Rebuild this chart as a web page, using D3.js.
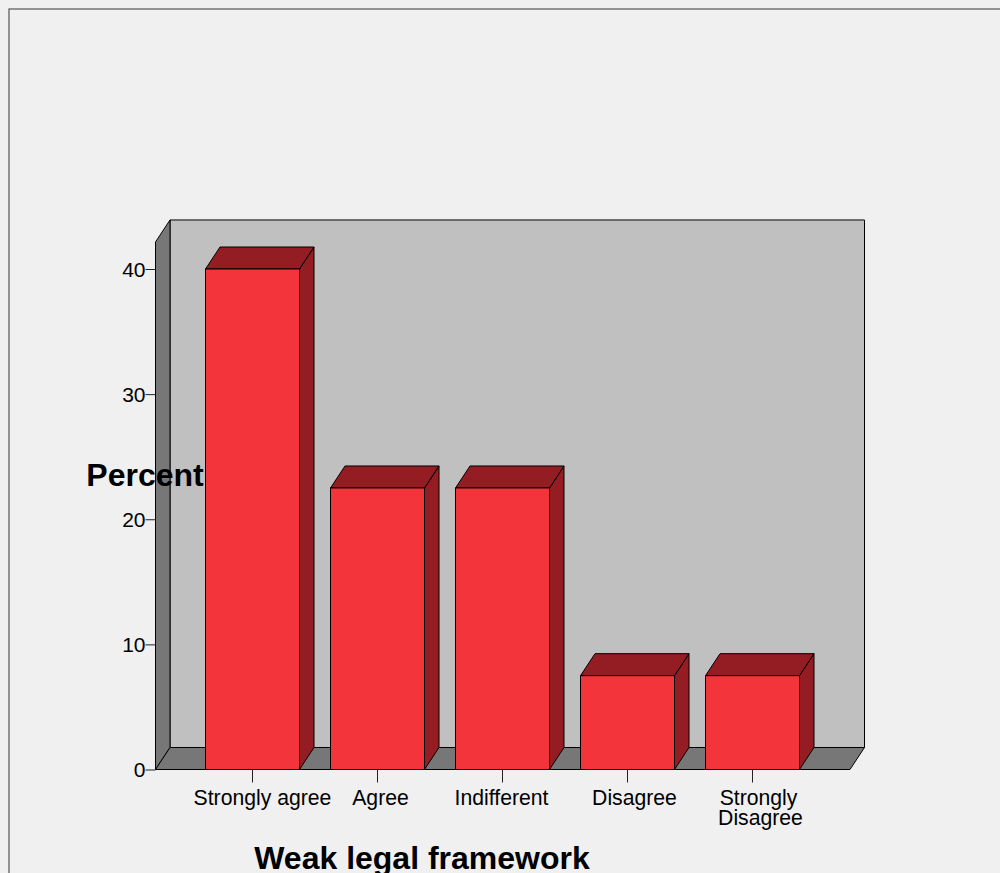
<!DOCTYPE html>
<html><head><meta charset="utf-8">
<script src="https://cdn.jsdelivr.net/npm/d3@7/dist/d3.min.js"></script>
<style>html,body{margin:0;padding:0;background:#f0f0f0;overflow:hidden}svg{display:block}text{font-family:"Liberation Sans",Arial,sans-serif;fill:#000}</style>
</head><body><svg id="c" width="1000" height="873"></svg>
<script>
const categories = ["Strongly agree","Agree","Indifferent","Disagree","Strongly Disagree"];
const percents = [40, 22.5, 22.5, 7.5, 7.5];
const yTicks = [0,10,20,30,40];
const yMax = 42.16;
const xTitle = "Weak legal framework";
const yTitle = "Percent";

const W=1000,H=873, dx=14.5, dy=-22;
const left=155.5,right=850,bottom=769.5;
const y=d3.scaleLinear().domain([0,40]).range([bottom,269]);
const x=d3.scaleBand().domain(categories).range([190,815]).paddingInner(0.248).paddingOuter(0.124);
const top_=y(yMax);
const svg=d3.select("#c");
const LINE="#000";
const poly=(pts,fill,sw=1)=>svg.append("path").attr("d","M"+pts.map(p=>p.join(",")).join("L")+"Z").attr("fill",fill).attr("stroke",LINE).attr("stroke-width",sw).attr("stroke-linejoin","round");

// outer frame
svg.append("rect").attr("x",9).attr("y",9).attr("width",W+20).attr("height",H+20).attr("fill","#f0f0f0").attr("stroke","#555").attr("stroke-width",1.2);

// 3D box: back wall, left wall, floor
poly([[left+dx,top_+dy],[right+dx,top_+dy],[right+dx,bottom+dy],[left+dx,bottom+dy]],"#c0c0c0");
poly([[left,top_],[left+dx,top_+dy],[left+dx,bottom+dy],[left,bottom]],"#777777");
poly([[left,bottom],[left+dx,bottom+dy],[right+dx,bottom+dy],[right,bottom]],"#777777");

// bars
categories.forEach((c,i)=>{
  const x0=x(c),x1=x0+x.bandwidth(),yt=y(percents[i]);
  poly([[x1,yt],[x1+dx,yt+dy],[x1+dx,bottom+dy],[x1,bottom]],"#931d22");
  poly([[x0,yt],[x0+dx,yt+dy],[x1+dx,yt+dy],[x1,yt]],"#931d22");
  poly([[x0,yt],[x1,yt],[x1,bottom],[x0,bottom]],"#f3343b");
});

// y axis
const ya=svg.append("g").attr("transform",`translate(${left},0)`).call(d3.axisLeft(y).tickValues(yTicks).tickSize(10).tickPadding(0).tickSizeOuter(0));
ya.select(".domain").remove();
ya.selectAll("line").attr("stroke","#222");
ya.selectAll("text").style("font-size","21px").style("font-family",'"Liberation Sans"').attr("fill","#000").attr("dy","0.35em");

// x axis
const xa=svg.append("g").attr("transform",`translate(0,${bottom})`).call(d3.axisBottom(x).tickSize(13).tickFormat(""));
xa.select(".domain").remove();
xa.selectAll("line").attr("stroke","#222");
const labelShift=[10,3,-1,7,6];
const lh=20;
categories.forEach((c,i)=>{
  const cx=x(c)+x.bandwidth()/2+labelShift[i];
  const lines=c==="Strongly Disagree"?["Strongly","Disagree"]:[c];
  lines.forEach((l,j)=>svg.append("text").attr("x",cx+(j?2:0)).attr("y",805+j*lh).attr("text-anchor","middle").style("font-size","21.2px").text(l));
});

svg.append("text").attr("x",422).attr("y",869).attr("text-anchor","middle").style("font-size","32px").style("font-weight","bold").text(xTitle);
svg.append("text").attr("x",145).attr("y",486).attr("text-anchor","middle").style("font-size","32px").style("font-weight","bold").text(yTitle);
</script></body></html>
